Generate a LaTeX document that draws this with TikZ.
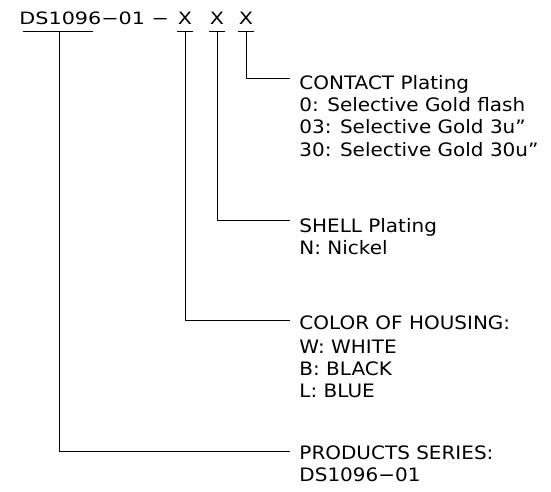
\documentclass[tikz,border=0pt]{standalone}
\usepackage{fontspec}
\setmainfont{DejaVu Sans}[FakeStretch=1.08]
\newfontfamily\ttlfont{DejaVu Sans}[FakeStretch=1.22]
\begin{document}
\begin{tikzpicture}[x=1pt,y=-1pt,line width=0.9pt,
  lbl/.style={anchor=base west, inner sep=0pt, font=\fontsize{18.5}{22}\selectfont},
  ttl/.style={anchor=base west, inner sep=0pt, font=\ttlfont\fontsize{17}{20}\selectfont},
  xmark/.style={anchor=base, inner sep=0pt, font=\ttlfont\fontsize{17}{20}\selectfont},
  conn/.style={draw=black, line width=0.9pt}]
\fill[white] (0,0) rectangle (551,492);
\useasboundingbox (0,0) rectangle (551,492);
% part number
\node[ttl] (pn) at (19,25) {DS1096−01 −};
\node[xmark] (x1) at (185,25) {X};
\node[xmark] (x2) at (217,25) {X};
\node[xmark] (x3) at (246,25) {X};
% underlines
\draw (23,31) -- (93,31);
\draw (177,31) -- (193,31);
\draw (209,31) -- (225,31);
\draw (238,31) -- (254,31);
\coordinate (u0) at (59,31);
\coordinate (u1) at (185,31);
\coordinate (u2) at (217,31);
\coordinate (u3) at (246,31);
% connector ends
\coordinate (cEnd) at (290,78);
\coordinate (sEnd) at (290,220);
\coordinate (hEnd) at (290,320);
\coordinate (pEnd) at (290,451);
% labels
\node[lbl] (c0) at (299,90) {CONTACT Plating};
\node[lbl] (c1) at (299,112) {0: Selective Gold flash};
\node[lbl] (c2) at (299,134) {03: Selective Gold 3u”};
\node[lbl] (c3) at (299,156) {30: Selective Gold 30u”};
\node[lbl] (s0) at (299,232) {SHELL Plating};
\node[lbl] (s1) at (299,254) {N: Nickel};
\node[lbl] (h0) at (299,329) {COLOR OF HOUSING:};
\node[lbl] (h1) at (299,353) {W: WHITE};
\node[lbl] (h2) at (299,375) {B: BLACK};
\node[lbl] (h3) at (299,397) {L: BLUE};
\node[lbl] (p0) at (299,459) {PRODUCTS SERIES:};
\node[lbl] (p1) at (299,481) {DS1096−01};
% connectors
\draw[conn] (u3) |- (cEnd);
\draw[conn] (u2) |- (sEnd);
\draw[conn] (u1) |- (hEnd);
\draw[conn] (u0) |- (pEnd);
\end{tikzpicture}
\end{document}
